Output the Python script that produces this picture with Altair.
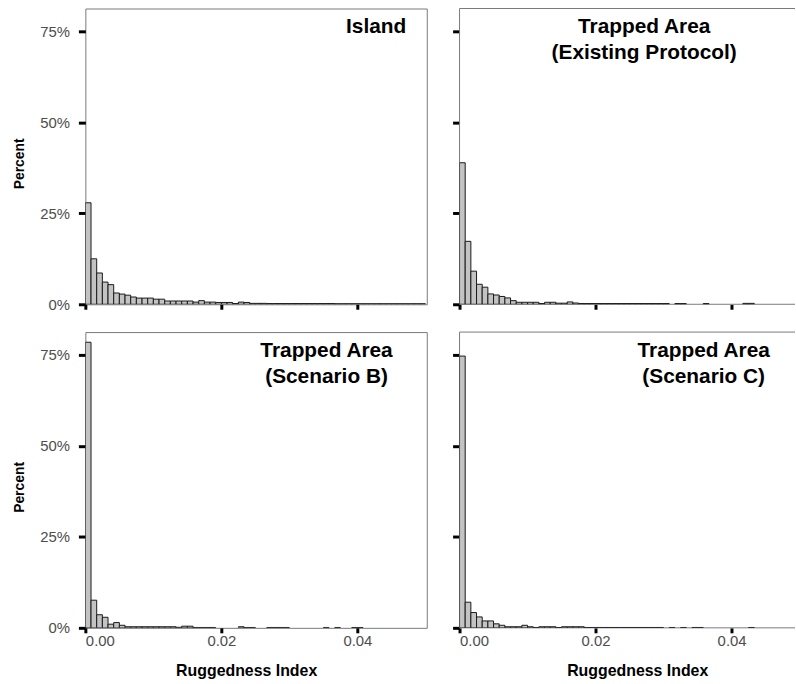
import altair as alt
import pandas as pd

# ---- data (percent of cells per bin) ----
n_bins = 60
bin_width = 0.05 / n_bins
bin_starts = [round(i * bin_width, 6) for i in range(n_bins)]
bin_ends = [round((i + 1) * bin_width, 6) for i in range(n_bins)]

island = [27.9, 12.5, 8.6, 6.1, 5.4, 3.1, 2.8, 2.5, 2.0, 1.7,
          1.7, 1.7, 1.4, 1.4, 0.9, 0.9, 0.9, 0.9, 0.9, 0.6,
          1.0, 0.6, 0.6, 0.5, 0.5, 0.5, 0.2, 0.6, 0.5, 0.25,
          0.25, 0.25, 0.2, 0.2, 0.2, 0.2, 0.2, 0.2, 0.2, 0.2,
          0.2, 0.2, 0.2, 0.2, 0.15, 0.15, 0.15, 0.15, 0.15, 0.15,
          0.15, 0.15, 0.15, 0.15, 0.15, 0.15, 0.15, 0.15, 0.15, 0.15]

existing = [38.9, 17.3, 9.1, 5.5, 4.7, 2.85, 2.55, 2.15, 1.75, 1.0,
            0.55, 0.55, 0.55, 0.55, 0.2, 0.55, 0.55, 0.3, 0.3, 0.65,
            0.35, 0.2, 0.2, 0.2, 0.2, 0.2, 0.2, 0.2, 0.2, 0.2,
            0.2, 0.2, 0.2, 0.2, 0.2, 0.2, 0.2, 0, 0.2, 0.2,
            0, 0, 0, 0.2, 0, 0, 0, 0, 0, 0,
            0.25, 0.25, 0, 0, 0, 0, 0, 0, 0, 0]

scenario_b = [78.5, 7.6, 3.6, 2.9, 1.0, 1.45, 0.7, 0.3, 0.3, 0.3,
              0.3, 0.3, 0.3, 0.3, 0.3, 0.3, 0.15, 0.45, 0.45, 0.1,
              0.1, 0.1, 0.1, 0, 0, 0, 0, 0.3, 0.1, 0.1,
              0, 0, 0.1, 0.1, 0.1, 0.1, 0, 0, 0, 0,
              0, 0, 0.1, 0, 0.1, 0, 0, 0.1, 0.1, 0,
              0, 0, 0, 0, 0, 0, 0, 0, 0, 0]

scenario_c = [74.7, 7.05, 4.2, 3.0, 1.9, 1.9, 1.1, 0.7, 0.3, 0.3,
              0.3, 0.7, 0.3, 0.1, 0.3, 0.3, 0.3, 0.1, 0.3, 0.3,
              0.3, 0.3, 0.1, 0.1, 0.1, 0.1, 0.1, 0.1, 0.1, 0.1,
              0.1, 0.1, 0.1, 0.1, 0.1, 0.1, 0, 0.1, 0, 0.1,
              0, 0.1, 0.1, 0, 0, 0, 0, 0, 0, 0,
              0, 0.1, 0, 0, 0, 0, 0, 0, 0, 0]

titles = [["Island"],
          ["Trapped Area", "(Existing Protocol)"],
          ["Trapped Area", "(Scenario B)"],
          ["Trapped Area", "(Scenario C)"]]

x_ticks = [0, 0.02, 0.04]
y_ticks = [0, 0.25, 0.5, 0.75]

FONT = "Liberation Sans"
FRAME = "#7a7a7a"
W_FULL = 344
H = 298


def panel(values, title_lines, tx, ty, left, bottom, width):
    df = pd.DataFrame({"start": bin_starts, "end": bin_ends,
                       "pct": [v / 100 for v in values]})
    xmax = 0.0502 * width / W_FULL
    x_axis = alt.Axis(values=x_ticks, format=".2f", labels=bottom,
                      title="Ruggedness Index" if bottom else None,
                      tickSize=5, labelPadding=1, titlePadding=14,
                      titleX=162 if left else 179)
    y_axis = alt.Axis(values=y_ticks, format=".0%", labels=left,
                      title="Percent" if left else None,
                      tickSize=7, labelPadding=9, titlePadding=13,
                      titleY=156)
    bars = alt.Chart(df).transform_filter("datum.pct > 0").mark_bar(
        fill="#c3c3c3", stroke="#1a1a1a", strokeWidth=1, clip=True,
        orient="vertical"
    ).encode(
        x=alt.X("start:Q", scale=alt.Scale(domain=[0, xmax], nice=False, zero=False, padding=0),
                axis=x_axis),
        x2="end:Q",
        y=alt.Y("pct:Q", scale=alt.Scale(domain=[0, 0.813], nice=False, padding=0), axis=y_axis),
        y2=alt.datum(0),
    )
    label_df = pd.DataFrame({"k": [0]})
    label = alt.Chart(label_df).mark_text(
        text=title_lines, align="center", baseline="alphabetic", fontSize=21,
        fontWeight="bold", font=FONT, lineHeight=26, color="black"
    ).encode(x=alt.value(tx), y=alt.value(ty))
    layers = [bars, label]
    props = dict(width=width, height=H)
    if not left:
        frame_df = pd.DataFrame({"k": [0]})
        top_rule = alt.Chart(frame_df).mark_rule(color=FRAME, strokeWidth=1).encode(
            x=alt.value(0), x2=alt.value(width), y=alt.value(0))
        bottom_rule = alt.Chart(frame_df).mark_rule(color=FRAME, strokeWidth=1).encode(
            x=alt.value(0), x2=alt.value(width), y=alt.value(H))
        left_rule = alt.Chart(frame_df).mark_rule(color=FRAME, strokeWidth=1).encode(
            x=alt.value(0), y=alt.value(0), y2=alt.value(H))
        layers = [top_rule, bottom_rule, left_rule] + layers
        props["view"] = alt.ViewBackground(stroke=None)
    return alt.layer(*layers).properties(**props)


p1 = panel(island, titles[0], 293, 25, True, False, W_FULL)
p2 = panel(existing, titles[1], 186, 25, False, False, 338)
p3 = panel(scenario_b, titles[2], 243, 25, True, True, W_FULL)
p4 = panel(scenario_c, titles[3], 246, 25, False, True, 338)

row1 = alt.hconcat(p1, p2, spacing=23)
row2 = alt.hconcat(p3, p4, spacing=23)

chart = alt.vconcat(row1, row2, spacing=18).properties(
    padding={"left": 12, "top": 5, "right": 0, "bottom": 0},
    background="white",
).configure_view(
    stroke=FRAME, strokeWidth=1
).configure_axis(
    domain=False, grid=False, tickColor="black", tickWidth=3,
    labelFont=FONT, labelFontSize=15, labelColor="#4d4d4d",
    titleFont=FONT, titleFontSize=16, titleFontWeight="bold", titleColor="black",
).configure_axisY(
    titleFontSize=14
)

chart.save("out.html", embed_options={"renderer": "svg", "actions": False})
